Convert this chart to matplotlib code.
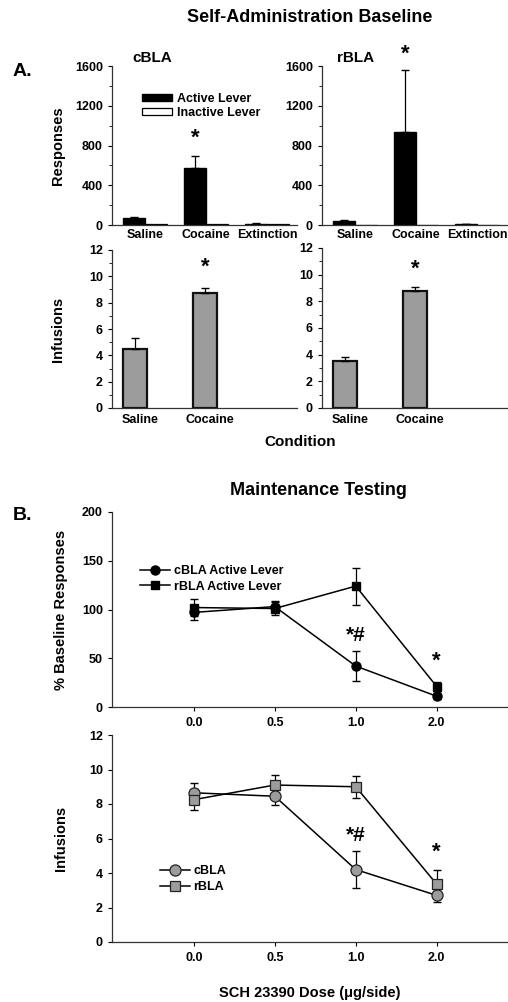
import numpy as np
import matplotlib
matplotlib.use("Agg")
import matplotlib.pyplot as plt

plt.rcParams['font.family'] = ['Liberation Sans', 'DejaVu Sans']
plt.rcParams['font.weight'] = 'bold'
plt.rcParams['axes.labelweight'] = 'bold'

# ---- data ----
conditions = ['Saline', 'Cocaine', 'Extinction']
cbla_active = [70, 575, 15]
cbla_active_err = [8, 115, 3]
cbla_inactive = [8, 10, 8]
rbla_active = [45, 935, 8]
rbla_active_err = [5, 625, 2]
rbla_inactive = [3, 5, 3]

inf_conditions = ['Saline', 'Cocaine']
cbla_inf = [4.5, 8.7]
cbla_inf_err = [0.8, 0.45]
rbla_inf = [3.5, 8.8]
rbla_inf_err = [0.3, 0.3]

doses = ['0.0', '0.5', '1.0', '2.0']
cbla_pct = [97, 103, 42, 11]
cbla_pct_err = [8, 6, 15, 3]
rbla_pct = [102, 101, 124, 21]
rbla_pct_err = [9, 7, 19, 5]

cbla_maint_inf = [8.65, 8.45, 4.2, 2.7]
cbla_maint_inf_err = [0.55, 0.5, 1.05, 0.4]
rbla_maint_inf = [8.25, 9.1, 9.0, 3.35]
rbla_maint_inf_err = [0.6, 0.6, 0.65, 0.8]

GRAY = '#9c9c9c'
W, H = 508, 1002
fig = plt.figure(figsize=(W / 100, H / 100), dpi=100)


def px_axes(x0, y0, x1, y1):
    # rectangle in pixel coords (top-left origin)
    return fig.add_axes([x0 / W, 1 - y1 / H, (x1 - x0) / W, (y1 - y0) / H])


def style(ax, fs=9):
    for s in ['top', 'right']:
        ax.spines[s].set_visible(False)
    for s in ['left', 'bottom']:
        ax.spines[s].set_linewidth(0.9)
        ax.spines[s].set_color('#333333')
    ax.tick_params(direction='out', length=3, width=0.8, labelsize=fs, pad=3.5)
    ax.tick_params(which='minor', direction='out', length=2, width=0.6)


# ---- Panel A: responses ----
w = 0.36
x = np.arange(len(conditions))
for (x0, x1), act, err, inact, name in [((112, 297), cbla_active, cbla_active_err, cbla_inactive, 'cBLA'),
                                        ((322, 507), rbla_active, rbla_active_err, rbla_inactive, 'rBLA')]:
    ax = px_axes(x0, 66, x1, 225)
    ax.bar(x - w / 2, act, w, color='black', edgecolor='black', label='Active Lever')
    ax.errorbar(x - w / 2, act, yerr=[[0] * 3, err], fmt='none', ecolor='black', elinewidth=0.9, capsize=3)
    ax.bar(x + w / 2, inact, w, color='white', edgecolor='black', linewidth=0.9, label='Inactive Lever')
    ax.set_xlim(-0.54, 2.49)
    ax.set_ylim(0, 1600)
    ax.set_yticks([0, 400, 800, 1200, 1600])
    ax.set_yticks([200, 600, 1000, 1400], minor=True)
    ax.set_xticks(x)
    ax.set_xticklabels(conditions)
    style(ax)
    ax.tick_params(axis='x', length=0, labelsize=9, pad=3)
    if name == 'cBLA':
        ax.set_title(name, fontsize=11, fontweight='bold', x=0.22, y=1.0, pad=3)
        ax.set_ylabel('Responses', fontsize=10.5)
        ax.yaxis.set_label_coords(-0.255, 0.5)
        ax.legend(loc='upper left', bbox_to_anchor=(0.13, 0.87), frameon=False, fontsize=9,
                  handlelength=2.4, handleheight=0.45, labelspacing=0.15, handletextpad=0.4,
                  borderpad=0)
        ax.text(1 - w / 2, act[1] + err[1] + 80, '*', ha='center', va='bottom', fontsize=16)
    else:
        ax.set_title(name, fontsize=11, fontweight='bold', x=0.18, y=1.0, pad=3)
        ax.text(1 - w / 2, 1610, '*', ha='center', va='bottom', fontsize=16, clip_on=False)

# ---- Panel A: infusions ----
xi = np.arange(len(inf_conditions))
for (x0, x1, ytop), vals, err, star_y in [((112, 297, 250), cbla_inf, cbla_inf_err, 9.9),
                                          ((322, 507, 248), rbla_inf, rbla_inf_err, 9.6)]:
    ax = px_axes(x0, ytop, x1, 408)
    ax.bar(xi, vals, 0.34, color=GRAY, edgecolor='#111111', linewidth=1.6)
    ax.errorbar(xi, vals, yerr=[[0] * 2, err], fmt='none', ecolor='black', elinewidth=0.9, capsize=3)
    ax.set_xlim(-0.33, 2.31)
    ax.set_ylim(0, 12)
    ax.set_yticks(np.arange(0, 13, 2))
    ax.set_yticks(np.arange(1, 12, 2), minor=True)
    ax.set_xticks(xi + 0.07)
    ax.set_xticklabels(inf_conditions)
    style(ax)
    ax.tick_params(axis='x', length=0, labelsize=9, pad=4)
    ax.text(1, star_y, '*', ha='center', va='bottom', fontsize=16)
    if x0 == 112:
        ax.set_ylabel('Infusions', fontsize=10.5)
        ax.yaxis.set_label_coords(-0.255, 0.5)

fig.text(300 / W, 1 - 442 / H, 'Condition', ha='center', va='center', fontsize=11)
fig.text(310 / W, 1 - 18 / H, 'Self-Administration Baseline', ha='center', va='center', fontsize=13)
fig.text(13 / W, 1 - 72 / H, 'A.', ha='left', va='center', fontsize=14)

# ---- Panel B ----
xd = np.arange(len(doses))
ax = px_axes(112, 512, 508, 707)
ax.errorbar(xd, cbla_pct, yerr=cbla_pct_err, fmt='none', ecolor='black', elinewidth=0.9, capsize=3, zorder=2)
ax.errorbar(xd, rbla_pct, yerr=rbla_pct_err, fmt='none', ecolor='black', elinewidth=0.9, capsize=3, zorder=2)
ax.plot(xd, cbla_pct, '-o', color='black', lw=1.1, ms=6.5, zorder=3, label='cBLA Active Lever')
ax.plot(xd, rbla_pct, '-s', color='black', lw=1.1, ms=6, zorder=3, label='rBLA Active Lever')
ax.set_xlim(-1.01, 3.88)
ax.set_ylim(0, 200)
ax.set_yticks([0, 50, 100, 150, 200])
ax.set_xticks(xd)
ax.set_xticklabels(doses)
style(ax)
ax.tick_params(axis='x', pad=4)
ax.set_ylabel('% Baseline Responses', fontsize=10.5)
ax.yaxis.set_label_coords(-0.112, 0.5)
ax.legend(loc='upper left', bbox_to_anchor=(0.055, 0.76), frameon=False, fontsize=9,
          handlelength=2.4, labelspacing=0.3, handletextpad=0.3, borderpad=0)
ax.text(2, 64, '*#', ha='center', va='bottom', fontsize=15)
ax.text(3, 36, '*', ha='center', va='bottom', fontsize=16)

ax = px_axes(112, 735, 508, 942)
ax.errorbar(xd, cbla_maint_inf, yerr=cbla_maint_inf_err, fmt='none', ecolor='black', elinewidth=0.9, capsize=3, zorder=2)
ax.errorbar(xd, rbla_maint_inf, yerr=rbla_maint_inf_err, fmt='none', ecolor='black', elinewidth=0.9, capsize=3, zorder=2)
ax.plot(xd, cbla_maint_inf, '-o', color='black', mfc=GRAY, mec='#222222', mew=0.9, lw=1.1, ms=8, zorder=3, label='cBLA')
ax.plot(xd, rbla_maint_inf, '-s', color='black', mfc=GRAY, mec='#222222', mew=0.9, lw=1.1, ms=7.5, zorder=3, label='rBLA')
ax.set_xlim(-1.01, 3.88)
ax.set_ylim(0, 12)
ax.set_yticks(np.arange(0, 13, 2))
ax.set_xticks(xd)
ax.set_xticklabels(doses)
style(ax)
ax.tick_params(axis='x', pad=4)
ax.set_ylabel('Infusions', fontsize=10.5)
ax.yaxis.set_label_coords(-0.112, 0.5)
ax.legend(loc='upper left', bbox_to_anchor=(0.105, 0.4), frameon=False, fontsize=9,
          handlelength=2.4, labelspacing=0.3, handletextpad=0.3, borderpad=0)
ax.text(2, 5.6, '*#', ha='center', va='bottom', fontsize=15)
ax.text(3, 4.6, '*', ha='center', va='bottom', fontsize=16)

fig.text(310 / W, 1 - 993 / H, 'SCH 23390 Dose (\u03bcg/side)', ha='center', va='center', fontsize=10.5)
fig.text(318 / W, 1 - 490 / H, 'Maintenance Testing', ha='center', va='center', fontsize=13)
fig.text(13 / W, 1 - 515 / H, 'B.', ha='left', va='center', fontsize=14)

fig.savefig('out.png', dpi=100)
